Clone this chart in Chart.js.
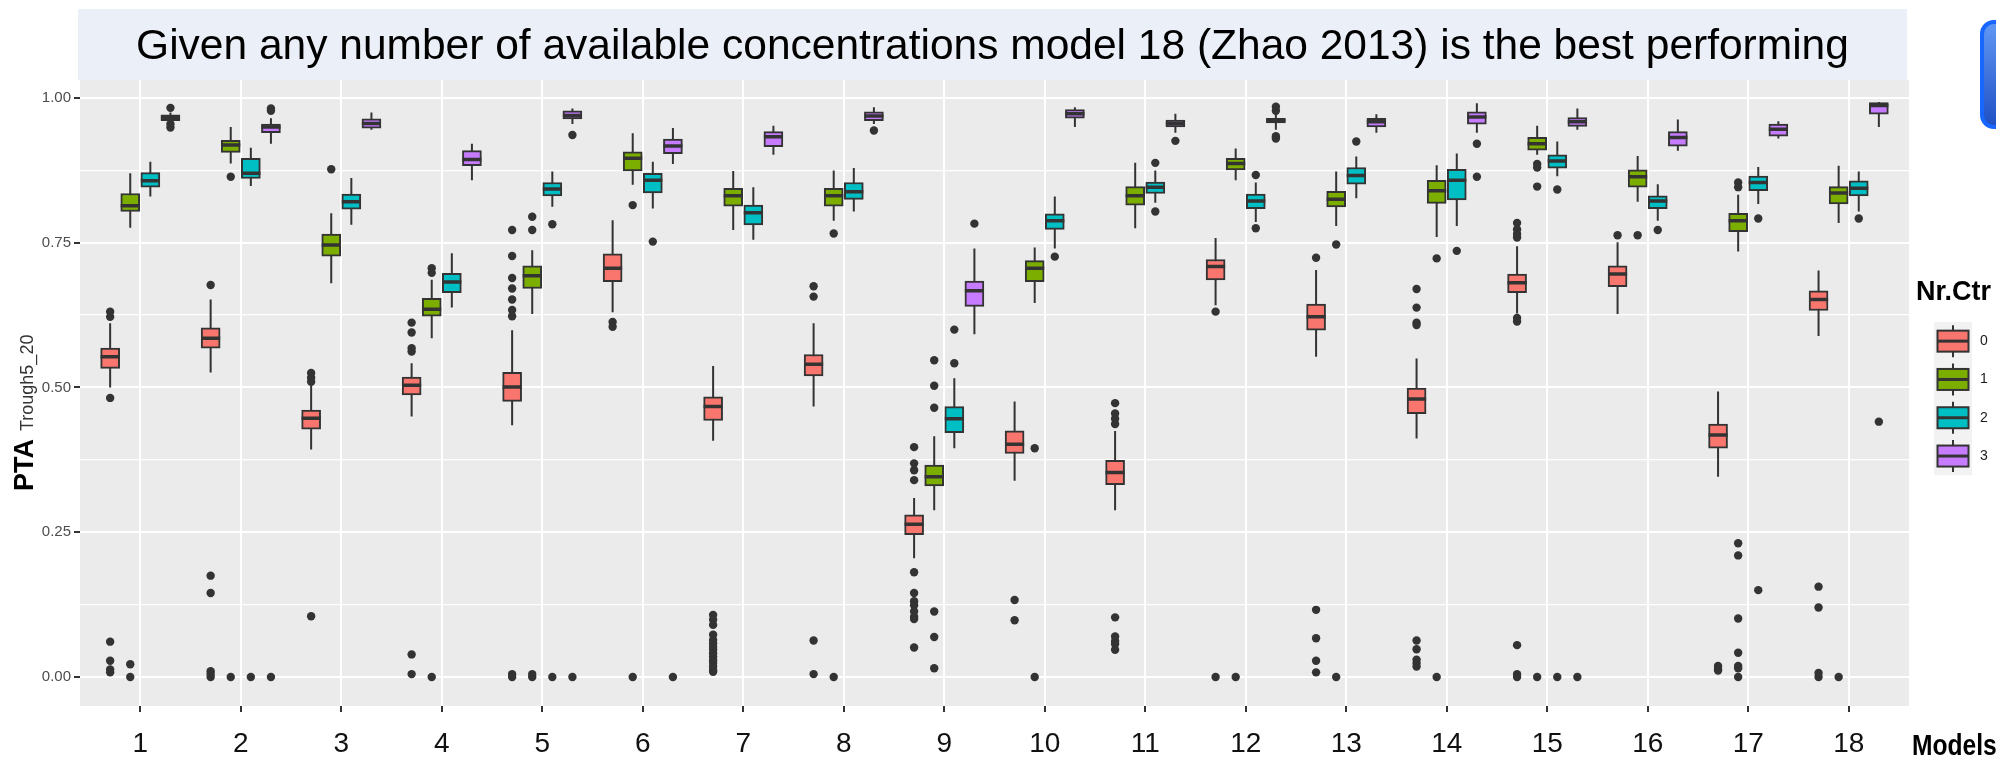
<!DOCTYPE html>
<html>
<head>
<meta charset="utf-8">
<title>PTA Trough5_20 by model</title>
<script src="https://cdn.jsdelivr.net/npm/chart.js@4.4.1/dist/chart.umd.min.js"></script>
<style>
  html, body { margin: 0; padding: 0; background: #ffffff; }
  canvas { display: block; }
</style>
</head>
<body>
<canvas id="ptaChart" width="1996" height="759"></canvas>
<script>
let models = ['1', '2', '3', '4', '5', '6', '7', '8', '9', '10', '11', '12', '13', '14', '15', '16', '17', '18'];
let nrCtr = ['0', '1', '2', '3'];
let yTickValues = [0, 0.125, 0.25, 0.375, 0.5, 0.625, 0.75, 0.875, 1];

let titleText = 'Given any number of available concentrations model 18 (Zhao 2013) is the best performing';
let yTitleMain = 'PTA';
let yTitleSub = 'Trough5_20';
let xTitle = 'Models';
let legendTitle = 'Nr.Ctr';

// [lower whisker, q1, median, q3, upper whisker] for every model
let ctr0Box = [
    [0.500, 0.533, 0.553, 0.568, 0.611], [0.526, 0.568, 0.585, 0.603, 0.652], [0.393, 0.428, 0.447, 0.461, 0.503],
    [0.450, 0.487, 0.504, 0.518, 0.542], [0.435, 0.476, 0.501, 0.526, 0.599], [0.630, 0.683, 0.706, 0.731, 0.789],
    [0.408, 0.443, 0.467, 0.484, 0.537], [0.467, 0.520, 0.540, 0.557, 0.611], [0.205, 0.246, 0.264, 0.280, 0.309],
    [0.339, 0.386, 0.402, 0.425, 0.476], [0.288, 0.332, 0.353, 0.374, 0.425], [0.642, 0.686, 0.709, 0.721, 0.758],
    [0.553, 0.599, 0.622, 0.644, 0.703], [0.412, 0.455, 0.480, 0.499, 0.550], [0.628, 0.664, 0.681, 0.696, 0.744],
    [0.627, 0.674, 0.696, 0.710, 0.751], [0.346, 0.395, 0.418, 0.437, 0.493], [0.589, 0.633, 0.652, 0.667, 0.702]
];
let ctr1Box = [
    [0.776, 0.804, 0.814, 0.835, 0.870], [0.887, 0.906, 0.919, 0.927, 0.950], [0.680, 0.727, 0.746, 0.765, 0.801],
    [0.585, 0.623, 0.635, 0.654, 0.686], [0.627, 0.671, 0.693, 0.710, 0.737], [0.850, 0.874, 0.896, 0.907, 0.939],
    [0.772, 0.813, 0.831, 0.844, 0.874], [0.788, 0.813, 0.831, 0.844, 0.875], [0.288, 0.330, 0.346, 0.366, 0.416],
    [0.646, 0.683, 0.706, 0.719, 0.742], [0.775, 0.815, 0.831, 0.847, 0.888], [0.858, 0.876, 0.887, 0.896, 0.913],
    [0.779, 0.812, 0.825, 0.839, 0.873], [0.760, 0.818, 0.840, 0.858, 0.884], [0.902, 0.910, 0.921, 0.932, 0.952],
    [0.821, 0.846, 0.864, 0.876, 0.900], [0.735, 0.769, 0.788, 0.801, 0.833], [0.784, 0.817, 0.836, 0.847, 0.883]
];
let ctr2Box = [
    [0.830, 0.846, 0.857, 0.871, 0.890], [0.848, 0.861, 0.870, 0.896, 0.914], [0.781, 0.808, 0.821, 0.834, 0.862],
    [0.638, 0.664, 0.682, 0.697, 0.732], [0.812, 0.831, 0.843, 0.854, 0.873], [0.809, 0.836, 0.858, 0.870, 0.890],
    [0.755, 0.781, 0.802, 0.815, 0.846], [0.804, 0.825, 0.838, 0.854, 0.879], [0.395, 0.422, 0.446, 0.467, 0.516],
    [0.740, 0.773, 0.788, 0.800, 0.830], [0.819, 0.835, 0.846, 0.855, 0.875], [0.786, 0.809, 0.822, 0.834, 0.854],
    [0.827, 0.851, 0.866, 0.880, 0.899], [0.779, 0.824, 0.858, 0.877, 0.904], [0.865, 0.879, 0.891, 0.902, 0.925],
    [0.788, 0.809, 0.822, 0.831, 0.851], [0.817, 0.840, 0.854, 0.865, 0.881], [0.804, 0.831, 0.844, 0.857, 0.873]
];
let ctr3Box = [
    [0.959, 0.961, 0.966, 0.971, 0.975], [0.921, 0.940, 0.950, 0.955, 0.965], [0.945, 0.948, 0.956, 0.964, 0.975],
    [0.858, 0.883, 0.894, 0.909, 0.921], [0.955, 0.964, 0.970, 0.978, 0.982], [0.886, 0.904, 0.917, 0.929, 0.948],
    [0.902, 0.916, 0.933, 0.942, 0.952], [0.955, 0.961, 0.969, 0.976, 0.984], [0.592, 0.640, 0.667, 0.684, 0.740],
    [0.950, 0.965, 0.973, 0.980, 0.984], [0.940, 0.950, 0.956, 0.962, 0.973], [0.945, 0.957, 0.961, 0.965, 0.975],
    [0.940, 0.950, 0.959, 0.965, 0.972], [0.940, 0.955, 0.967, 0.976, 0.991], [0.945, 0.951, 0.959, 0.966, 0.982],
    [0.909, 0.917, 0.932, 0.942, 0.963], [0.930, 0.934, 0.946, 0.955, 0.960], [0.950, 0.972, 0.987, 0.992, 0.993]
];

// outliers for every model
let ctr0Out = [
    [0.631, 0.622, 0.482, 0.061, 0.028, 0.013, 0.008], [0.677, 0.175, 0.145, 0.010, 0.005, 0], [0.525, 0.517, 0.510, 0.105],
    [0.612, 0.595, 0.568, 0.562, 0.039, 0.005], [0.772, 0.727, 0.689, 0.671, 0.652, 0.634, 0.623, 0.005, 0], [0.613, 0.605],
    [0.107, 0.099, 0.090, 0.073, 0.064, 0.058, 0.052, 0.047, 0.041, 0.035, 0.029, 0.024, 0.018, 0.012, 0.009],
    [0.675, 0.657, 0.063, 0.005], [0.397, 0.369, 0.357, 0.340, 0.181, 0.145, 0.131, 0.124, 0.113, 0.104, 0.100, 0.051],
    [0.133, 0.098], [0.473, 0.455, 0.446, 0.437, 0.103, 0.070, 0.062, 0.057, 0.047], [0.631, 0],
    [0.724, 0.116, 0.067, 0.028, 0.008], [0.670, 0.638, 0.612, 0.608, 0.063, 0.048, 0.030, 0.024, 0.018],
    [0.784, 0.773, 0.765, 0.759, 0.620, 0.614, 0.055, 0.005, 0], [0.763], [0.019, 0.014, 0.011], [0.156, 0.120, 0.007, 0]
];
let ctr1Out = [
    [0.022, 0], [0.864, 0], [0.877], [0.706, 0.698, 0], [0.795, 0.772, 0.005, 0], [0.815, 0], [], [0.766, 0],
    [0.547, 0.503, 0.465, 0.113, 0.069, 0.015], [0.395, 0], [], [0], [0.747, 0], [0.723, 0], [0.886, 0.880, 0.847, 0],
    [0.763], [0.854, 0.846, 0.231, 0.210, 0.101, 0.042, 0.019, 0.015, 0], [0]
];
let ctr2Out = [
    [], [0], [], [], [0.782, 0], [0.752], [], [], [0.600, 0.542], [0.726], [0.888, 0.804], [0.867, 0.775],
    [0.925], [0.736], [0.842, 0], [0.772], [0.792, 0.150], [0.792]
];
let ctr3Out = [
    [0.983, 0.955, 0.949], [0.982, 0.978, 0], [], [], [0.936, 0], [0], [], [0.944], [0.783], [], [0.926],
    [0.985, 0.978, 0.934, 0.930], [], [0.921, 0.864], [0], [], [], [0.441]
];

const fills = ['#F8766D', '#7CAE00', '#00BFC4', '#C77CFF'];
const dark = '#333333';
const dodge = [-0.3, -0.1, 0.1, 0.3];
const halfBox = 0.095;
const plainFont = '"Liberation Sans", Arial, sans-serif';

const boxStats = [ctr0Box, ctr1Box, ctr2Box, ctr3Box];
const outliers = [ctr0Out, ctr1Out, ctr2Out, ctr3Out];

function isMajor(v) {
    return Math.abs(v * 4 - Math.round(v * 4)) < 1e-6;
}

let datasets = [];
boxStats.forEach((stats, g) => {
    let whisk = [], boxes = [], meds = [], pts = [];
    stats.forEach((s, i) => {
        let x = i + 1 + dodge[g];
        whisk.push({x: x, y: s[0]}, {x: x, y: s[4]}, {x: x + 0.001, y: null});
        boxes.push({x: x, y: [s[1], s[3]]});
        meds.push({x: x - halfBox, y: s[2]}, {x: x + halfBox, y: s[2]}, {x: x + halfBox + 0.001, y: null});
        outliers[g][i].forEach(v => pts.push({x: x, y: v}));
    });
    datasets.push({
        type: 'line', label: 'whisker ' + nrCtr[g], data: whisk,
        borderColor: dark, borderWidth: 2, pointRadius: 0, spanGaps: false, order: 4
    });
    datasets.push({
        type: 'bar', label: nrCtr[g], data: boxes,
        backgroundColor: fills[g], borderColor: dark, borderWidth: 2, borderSkipped: false,
        grouped: false, barThickness: 19, order: 3
    });
    datasets.push({
        type: 'line', label: 'median ' + nrCtr[g], data: meds,
        borderColor: dark, borderWidth: 3.5, borderCapStyle: 'butt', pointRadius: 0, spanGaps: false, order: 2
    });
    datasets.push({
        type: 'line', label: 'outliers ' + nrCtr[g], data: pts, showLine: false,
        pointRadius: 4.2, pointBackgroundColor: dark, pointBorderWidth: 0, order: 1
    });
});

// text squeezed sideways, like the narrow face used for the overlaid labels
function narrowText(ctx, text, x, y, squeeze) {
    ctx.save();
    ctx.translate(x, y);
    ctx.scale(squeeze, 1);
    ctx.fillText(text, 0, 0);
    ctx.restore();
}

// panel background, banner title, y title, legend and other extras
const extras = {
    id: 'extras',
    beforeDraw(chart) {
        const ctx = chart.ctx;
        const a = chart.chartArea;
        ctx.save();
        ctx.fillStyle = '#ffffff';
        ctx.fillRect(0, 0, chart.width, chart.height);
        ctx.fillStyle = '#EBEBEB';
        ctx.fillRect(a.left, a.top, a.width, a.height);
        ctx.restore();
    },
    afterDraw(chart) {
        const ctx = chart.ctx;
        const a = chart.chartArea;
        ctx.save();

        // title banner
        ctx.fillStyle = '#EBEFF7';
        ctx.fillRect(a.left - 2, a.top - 71, a.width, 71);
        ctx.fillStyle = '#000000';
        ctx.font = '42.5px ' + plainFont;
        ctx.textAlign = 'center';
        ctx.textBaseline = 'alphabetic';
        ctx.fillText(titleText, a.left - 2 + a.width / 2, a.top - 21);

        // blue button at the top right corner
        let bx = chart.width - 14, by = 22, bw = 40, bh = 105;
        let grad = ctx.createLinearGradient(0, by, 0, by + bh);
        grad.addColorStop(0, '#6198F4');
        grad.addColorStop(1, '#1F4FC4');
        ctx.beginPath();
        ctx.roundRect(bx, by, bw, bh, 12);
        ctx.fillStyle = grad;
        ctx.fill();
        ctx.lineWidth = 4;
        ctx.strokeStyle = '#1666FF';
        ctx.stroke();

        // y axis title
        ctx.save();
        ctx.translate(33, a.bottom - 215);
        ctx.rotate(-Math.PI / 2);
        ctx.textAlign = 'left';
        ctx.fillStyle = '#000000';
        ctx.font = 'bold 27px ' + plainFont;
        ctx.fillText(yTitleMain, 0, 0);
        ctx.fillStyle = '#333333';
        ctx.font = '18px ' + plainFont;
        ctx.fillText(yTitleSub, 60, 0);
        ctx.restore();

        // x axis title
        ctx.textAlign = 'left';
        ctx.fillStyle = '#000000';
        ctx.font = 'bold 30px ' + plainFont;
        narrowText(ctx, xTitle, a.right + 3, a.bottom + 49, 0.82);

        // legend
        let lx = a.right + 25, ly = 322, kh = 38.3, kw = 38;
        ctx.font = 'bold 27px ' + plainFont;
        ctx.fillText(legendTitle, a.right + 7, 300);
        ctx.fillStyle = '#F2F2F2';
        ctx.fillRect(lx, ly, kw, kh * nrCtr.length);
        nrCtr.forEach((lab, g) => {
            let cy = ly + kh * (g + 0.5), cx = lx + kw / 2;
            ctx.strokeStyle = dark;
            ctx.lineWidth = 2;
            ctx.beginPath();
            ctx.moveTo(cx, cy - 16);
            ctx.lineTo(cx, cy + 16);
            ctx.stroke();
            ctx.fillStyle = fills[g];
            ctx.fillRect(cx - 15.5, cy - 10.5, 31, 21);
            ctx.strokeRect(cx - 15.5, cy - 10.5, 31, 21);
            ctx.lineWidth = 3;
            ctx.beginPath();
            ctx.moveTo(cx - 15.5, cy);
            ctx.lineTo(cx + 15.5, cy);
            ctx.stroke();
            ctx.fillStyle = '#1a1a1a';
            ctx.font = '14px ' + plainFont;
            ctx.textBaseline = 'middle';
            ctx.fillText(lab, lx + kw + 8, cy);
            ctx.textBaseline = 'alphabetic';
        });

        ctx.restore();
    }
};

const ptaChart = new Chart(document.getElementById('ptaChart'), {
    type: 'bar',
    data: { datasets: datasets },
    options: {
        responsive: false,
        animation: false,
        devicePixelRatio: 1,
        events: [],
        layout: { padding: { left: 0, right: 87, top: 80, bottom: 0 } },
        plugins: {
            legend: { display: false },
            tooltip: { enabled: false },
            title: { display: false }
        },
        scales: {
            x: {
                type: 'linear',
                min: 0.4,
                max: 18.6,
                bounds: 'data',
                offset: false,
                afterBuildTicks: axis => { axis.ticks = models.map((m, i) => ({ value: i + 1 })); },
                afterFit: axis => { axis.height = 53; },
                grid: { color: '#ffffff', lineWidth: 2, drawTicks: true, tickLength: 6, tickColor: dark, tickWidth: 2, offset: false },
                border: { display: false },
                ticks: {
                    autoSkip: false,
                    maxRotation: 0,
                    padding: 15,
                    color: '#111111',
                    font: { family: plainFont, size: 28 },
                    callback: (v, i) => models[i]
                }
            },
            y: {
                type: 'linear',
                min: -0.0501,
                max: 1.0311,
                bounds: 'data',
                afterBuildTicks: axis => { axis.ticks = yTickValues.map(v => ({ value: v })); },
                afterFit: axis => { axis.width = 80; },
                grid: {
                    color: '#ffffff',
                    lineWidth: c => isMajor(c.tick.value) ? 2 : 1.3,
                    drawTicks: true,
                    tickLength: 6,
                    tickWidth: 2,
                    tickColor: c => isMajor(c.tick.value) ? dark : 'rgba(0,0,0,0)'
                },
                border: { display: false },
                ticks: {
                    padding: 3,
                    color: '#4D4D4D',
                    font: { family: plainFont, size: 15 },
                    callback: v => isMajor(v) ? v.toFixed(2) : ''
                }
            }
        }
    },
    plugins: [extras]
});
</script>
</body>
</html>
